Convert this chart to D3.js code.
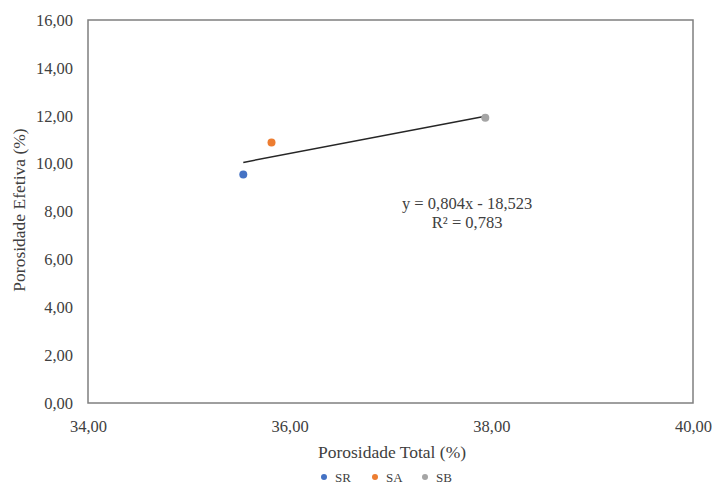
<!DOCTYPE html>
<html>
<head>
<meta charset="utf-8">
<script src="https://cdn.jsdelivr.net/npm/d3@7"></script>
<style>
  body { margin: 0; background: #fff; }
  text { font-family: "Liberation Serif", "Times New Roman", serif; fill: #404040; }
</style>
</head>
<body>
<div id="chart"></div>
<script>
// series
const seriesNames = ["SR", "SA", "SB"];
const seriesColors = ["#4472c4", "#ed7d31", "#a5a5a5"];
const totalPorosity = [35.54, 35.82, 37.94];
const effectivePorosity = [9.55, 10.88, 11.92];

// axes
const xTicks = [34, 36, 38, 40];
const yTicks = [0, 2, 4, 6, 8, 10, 12, 14, 16];

// trend line
const slope = 0.804, intercept = -18.523;
const eqLines = ["y = 0,804x - 18,523", "R² = 0,783"];

const fmt = v => v.toFixed(2).replace(".", ",");

const margin = {top: 20, right: 28, bottom: 83, left: 88};
const W = 721, H = 486;
const width = W - margin.left - margin.right;
const height = H - margin.top - margin.bottom;

const svg = d3.select("#chart").append("svg")
    .attr("width", W)
    .attr("height", H);

const g = svg.append("g")
    .attr("transform", "translate(" + margin.left + "," + margin.top + ")");

const x = d3.scaleLinear().domain([34, 40]).range([0, width]);
const y = d3.scaleLinear().domain([0, 16]).range([height, 0]);

// frame
g.append("rect")
    .attr("width", width)
    .attr("height", height)
    .attr("fill", "none")
    .attr("stroke", "#7f7f7f")
    .attr("stroke-width", 1.5);

const xAxis = g.append("g")
    .attr("transform", "translate(0," + height + ")")
    .call(d3.axisBottom(x).tickValues(xTicks).tickFormat(fmt).tickSize(0).tickPadding(17));
const yAxis = g.append("g")
    .call(d3.axisLeft(y).tickValues(yTicks).tickFormat(fmt).tickSize(0).tickPadding(15));
[xAxis, yAxis].forEach(a => {
    a.select(".domain").remove();
    a.selectAll("text")
        .style("font-family", "Liberation Serif, serif")
        .style("font-size", "16.5px")
        .attr("fill", "#404040");
});

// trendline
const xs = d3.extent(totalPorosity);
g.append("line")
    .attr("x1", x(xs[0])).attr("y1", y(slope * xs[0] + intercept))
    .attr("x2", x(xs[1])).attr("y2", y(slope * xs[1] + intercept))
    .attr("stroke", "#262626")
    .attr("stroke-width", 1.5);

// points
g.selectAll(".pt")
    .data(seriesNames)
    .enter().append("circle")
    .attr("class", "pt")
    .attr("cx", (d, i) => x(totalPorosity[i]))
    .attr("cy", (d, i) => y(effectivePorosity[i]))
    .attr("r", 4)
    .attr("fill", (d, i) => seriesColors[i]);

// equation
const eqX = x(37.76);
g.append("text")
    .attr("y", y(8.1))
    .attr("text-anchor", "middle")
    .style("font-size", "16.5px")
    .attr("fill", "#262626")
    .selectAll("tspan")
    .data(eqLines)
    .enter().append("tspan")
    .attr("x", eqX)
    .attr("dy", (d, i) => i === 0 ? 0 : 19)
    .text(d => d);

// axis titles
svg.append("text")
    .attr("x", 392)
    .attr("y", 458)
    .attr("text-anchor", "middle")
    .style("font-size", "17.5px")
    .text("Porosidade Total (%)");

svg.append("text")
    .attr("transform", "translate(25,210) rotate(-90)")
    .attr("text-anchor", "middle")
    .style("font-size", "17.5px")
    .text("Porosidade Efetiva (%)");

// legend
const legendX = [324, 375, 425];
const legend = svg.selectAll(".leg")
    .data(seriesNames)
    .enter().append("g")
    .attr("transform", (d, i) => "translate(" + legendX[i] + ",477)");
legend.append("circle")
    .attr("r", 3)
    .attr("fill", (d, i) => seriesColors[i]);
legend.append("text")
    .attr("x", 11)
    .attr("dy", "0.35em")
    .style("font-size", "13px")
    .text(d => d);
</script>
</body>
</html>
